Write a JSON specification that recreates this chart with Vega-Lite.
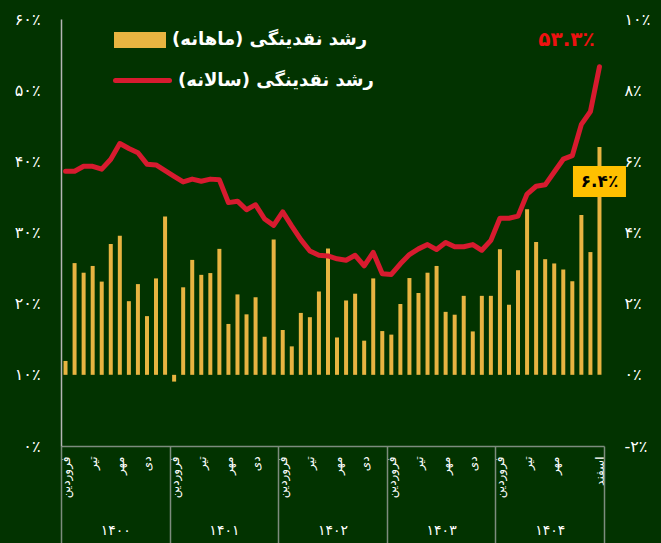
{
  "$schema": "https://vega.github.io/schema/vega-lite/v6.json",
  "width": 543,
  "height": 427,
  "autosize": {"type": "none"},
  "padding": {"left": 61, "top": 19, "right": 57, "bottom": 97},
  "background": "#023300",
  "config": {
    "view": {"stroke": null},
    "font": "DejaVu Sans",
    "axis": {"grid": false, "labelColor": "#ffffff", "labelFont": "DejaVu Sans", "title": null}
  },
  "data": {
    "values": [
      {"m": 1, "monthly": 0.39, "annual": 38.6},
      {"m": 2, "monthly": 3.14, "annual": 38.6},
      {"m": 3, "monthly": 2.87, "annual": 39.3},
      {"m": 4, "monthly": 3.06, "annual": 39.3},
      {"m": 5, "monthly": 2.62, "annual": 38.9},
      {"m": 6, "monthly": 3.68, "annual": 40.3},
      {"m": 7, "monthly": 3.91, "annual": 42.5},
      {"m": 8, "monthly": 2.07, "annual": 41.8},
      {"m": 9, "monthly": 2.55, "annual": 41.2},
      {"m": 10, "monthly": 1.65, "annual": 39.6},
      {"m": 11, "monthly": 2.71, "annual": 39.5},
      {"m": 12, "monthly": 4.45, "annual": 38.7},
      {"m": 13, "monthly": -0.19, "annual": 37.9},
      {"m": 14, "monthly": 2.46, "annual": 37.1},
      {"m": 15, "monthly": 3.23, "annual": 37.5},
      {"m": 16, "monthly": 2.81, "annual": 37.2},
      {"m": 17, "monthly": 2.86, "annual": 37.5},
      {"m": 18, "monthly": 3.54, "annual": 37.4},
      {"m": 19, "monthly": 1.43, "annual": 34.2},
      {"m": 20, "monthly": 2.26, "annual": 34.4},
      {"m": 21, "monthly": 1.70, "annual": 33.2},
      {"m": 22, "monthly": 2.18, "annual": 33.9},
      {"m": 23, "monthly": 1.07, "annual": 31.9},
      {"m": 24, "monthly": 3.80, "annual": 31.0},
      {"m": 25, "monthly": 1.26, "annual": 32.9},
      {"m": 26, "monthly": 0.80, "annual": 30.9},
      {"m": 27, "monthly": 1.74, "annual": 29.0},
      {"m": 28, "monthly": 1.62, "annual": 27.4},
      {"m": 29, "monthly": 2.34, "annual": 26.8},
      {"m": 30, "monthly": 3.55, "annual": 26.7},
      {"m": 31, "monthly": 1.05, "annual": 26.3},
      {"m": 32, "monthly": 2.09, "annual": 26.1},
      {"m": 33, "monthly": 2.28, "annual": 26.8},
      {"m": 34, "monthly": 0.96, "annual": 25.3},
      {"m": 35, "monthly": 2.71, "annual": 27.2},
      {"m": 36, "monthly": 1.23, "annual": 24.2},
      {"m": 37, "monthly": 1.13, "annual": 24.1},
      {"m": 38, "monthly": 1.99, "annual": 25.6},
      {"m": 39, "monthly": 2.72, "annual": 26.9},
      {"m": 40, "monthly": 2.30, "annual": 27.7},
      {"m": 41, "monthly": 2.87, "annual": 28.3},
      {"m": 42, "monthly": 3.06, "annual": 27.6},
      {"m": 43, "monthly": 1.77, "annual": 28.6},
      {"m": 44, "monthly": 1.69, "annual": 28.0},
      {"m": 45, "monthly": 2.22, "annual": 28.0},
      {"m": 46, "monthly": 1.22, "annual": 28.3},
      {"m": 47, "monthly": 2.22, "annual": 27.5},
      {"m": 48, "monthly": 2.22, "annual": 28.9},
      {"m": 49, "monthly": 3.53, "annual": 32.0},
      {"m": 50, "monthly": 1.97, "annual": 32.0},
      {"m": 51, "monthly": 2.94, "annual": 32.3},
      {"m": 52, "monthly": 4.65, "annual": 35.4},
      {"m": 53, "monthly": 3.73, "annual": 36.5},
      {"m": 54, "monthly": 3.25, "annual": 36.7},
      {"m": 55, "monthly": 3.13, "annual": 38.5},
      {"m": 56, "monthly": 2.96, "annual": 40.3},
      {"m": 57, "monthly": 2.63, "annual": 40.8},
      {"m": 58, "monthly": 4.49, "annual": 45.2},
      {"m": 59, "monthly": 3.45, "annual": 47.0},
      {"m": 60, "monthly": 6.4, "annual": 53.3}
    ]
  },
  "layer": [
    {
      "layer": [
        {
          "mark": {"type": "bar", "width": 4, "color": "#E8B441"},
          "encoding": {
            "x": {"field": "m", "type": "quantitative", "scale": {"domain": [0.5, 60.5], "nice": false, "zero": false, "padding": 0},
              "axis": {"orient": "bottom", "values": [1, 4, 7, 10, 13, 16, 19, 22, 25, 28, 31, 34, 37, 40, 43, 46, 49, 52, 55, 60], "labelExpr": "datum.value == 60 ? 'اسفند' : ['فروردین','','','تیر','','','مهر','','','دی','',''][(datum.value - 1) % 12]", "labelAngle": -90, "labelPadding": 10, "ticks": false, "domain": true, "domainColor": "#7d8c7d", "domainWidth": 1.5, "labelFontSize": 12, "labelFlush": false, "labelOverlap": false, "title": null}},
            "y": {"field": "monthly", "type": "quantitative", "scale": {"domain": [-2, 10], "nice": false},
              "axis": {"orient": "right", "values": [-2, 0, 2, 4, 6, 8, 10], "labelExpr": "['-۲٪','۰٪','۲٪','۴٪','۶٪','۸٪','۱۰٪'][round((datum.value + 2) / 2)]", "ticks": false, "domain": false, "labelPadding": 20, "labelFontSize": 16, "title": null}},
            "color": {"datum": "رشد نقدینگی (ماهانه)‏", "scale": {"range": ["#E8B441"]},
              "legend": {"orient": "none", "legendX": 53, "legendY": -5, "title": null, "symbolType": "M-1,-0.3077H1V0.3077H-1Z", "symbolSize": 2704, "symbolStrokeWidth": 0, "symbolOpacity": 1, "labelFontSize": 18, "labelFontWeight": "bold", "labelColor": "#ffffff", "labelFont": "DejaVu Sans", "labelOffset": 6, "padding": 0, "labelLimit": 400}}
          }
        },
        {
          "transform": [{"filter": "datum.m == 60"}],
          "mark": {"type": "point", "shape": "M-1,-0.585H1V0.585H-1Z", "size": 2809, "filled": true, "color": "#FFC000", "opacity": 1, "yOffset": 34.5},
          "encoding": {
            "x": {"field": "m", "type": "quantitative", "scale": {"domain": [0.5, 60.5], "nice": false, "zero": false, "padding": 0},
              "axis": {"orient": "bottom", "values": [1, 4, 7, 10, 13, 16, 19, 22, 25, 28, 31, 34, 37, 40, 43, 46, 49, 52, 55, 60], "labelExpr": "datum.value == 60 ? 'اسفند' : ['فروردین','','','تیر','','','مهر','','','دی','',''][(datum.value - 1) % 12]", "labelAngle": -90, "labelPadding": 10, "ticks": false, "domain": true, "domainColor": "#7d8c7d", "domainWidth": 1.5, "labelFontSize": 12, "labelFlush": false, "labelOverlap": false, "title": null}},
            "y": {"field": "monthly", "type": "quantitative", "scale": {"domain": [-2, 10], "nice": false},
              "axis": {"orient": "right", "values": [-2, 0, 2, 4, 6, 8, 10], "labelExpr": "['-۲٪','۰٪','۲٪','۴٪','۶٪','۸٪','۱۰٪'][round((datum.value + 2) / 2)]", "ticks": false, "domain": false, "labelPadding": 20, "labelFontSize": 16, "title": null}}
          }
        },
        {
          "transform": [{"filter": "datum.m == 60"}],
          "mark": {"type": "text", "text": "۶.۴٪", "font": "DejaVu Sans", "fontWeight": "bold", "fontSize": 17, "color": "#000000", "yOffset": 34.5, "baseline": "middle", "align": "center"},
          "encoding": {
            "x": {"field": "m", "type": "quantitative", "scale": {"domain": [0.5, 60.5], "nice": false, "zero": false, "padding": 0},
              "axis": {"orient": "bottom", "values": [1, 4, 7, 10, 13, 16, 19, 22, 25, 28, 31, 34, 37, 40, 43, 46, 49, 52, 55, 60], "labelExpr": "datum.value == 60 ? 'اسفند' : ['فروردین','','','تیر','','','مهر','','','دی','',''][(datum.value - 1) % 12]", "labelAngle": -90, "labelPadding": 10, "ticks": false, "domain": true, "domainColor": "#7d8c7d", "domainWidth": 1.5, "labelFontSize": 12, "labelFlush": false, "labelOverlap": false, "title": null}},
            "y": {"field": "monthly", "type": "quantitative", "scale": {"domain": [-2, 10], "nice": false},
              "axis": {"orient": "right", "values": [-2, 0, 2, 4, 6, 8, 10], "labelExpr": "['-۲٪','۰٪','۲٪','۴٪','۶٪','۸٪','۱۰٪'][round((datum.value + 2) / 2)]", "ticks": false, "domain": false, "labelPadding": 20, "labelFontSize": 16, "title": null}}
          }
        }
      ]
    },
    {
      "layer": [
        {
          "mark": {"type": "line", "strokeWidth": 5, "strokeCap": "round", "strokeJoin": "round", "color": "#D71B2F"},
          "encoding": {
            "x": {"field": "m", "type": "quantitative", "scale": {"domain": [0.5, 60.5], "nice": false, "zero": false, "padding": 0},
              "axis": {"orient": "bottom", "values": [0.5, 12.5, 24.5, 36.5, 48.5, 60.5], "labelExpr": "['۱۴۰۰','۱۴۰۱','۱۴۰۲','۱۴۰۳','۱۴۰۴',''][round((datum.value - 0.5) / 12)]", "ticks": true, "tickSize": 97, "tickColor": "#7d8c7d", "tickWidth": 1.5, "domain": false, "labelOffset": 54.3, "labelPadding": -20, "labelFontSize": 14, "labelFlush": false, "labelOverlap": false, "title": null}},
            "y": {"field": "annual", "type": "quantitative", "scale": {"domain": [0, 60], "nice": false},
              "axis": {"orient": "left", "values": [0, 10, 20, 30, 40, 50, 60], "labelExpr": "['۰٪','۱۰٪','۲۰٪','۳۰٪','۴۰٪','۵۰٪','۶۰٪'][round(datum.value / 10)]", "ticks": false, "domain": true, "domainColor": "#b5b5b5", "domainWidth": 1.5, "labelPadding": 21, "labelFontSize": 16, "title": null}},
            "color": {"datum": "رشد نقدینگی (سالانه)‏", "scale": {"range": ["#D71B2F"]},
              "legend": {"orient": "none", "legendX": 52, "legendY": 32, "title": null, "symbolType": "stroke", "symbolSize": 2916, "symbolStrokeWidth": 5, "labelFontSize": 18, "labelFontWeight": "bold", "labelColor": "#ffffff", "labelFont": "DejaVu Sans", "labelOffset": 6, "padding": 0, "labelLimit": 400,
                "encode": {"symbols": {"update": {"strokeCap": {"value": "round"}}}}}}
          }
        },
        {
          "transform": [{"filter": "datum.m == 60"}],
          "mark": {"type": "text", "text": "۵۳.۳٪", "font": "DejaVu Sans", "fontWeight": "bold", "fontSize": 20, "color": "#EE1111", "dx": -33, "dy": -27, "baseline": "middle", "align": "center"},
          "encoding": {
            "x": {"field": "m", "type": "quantitative", "scale": {"domain": [0.5, 60.5], "nice": false, "zero": false, "padding": 0},
              "axis": {"orient": "bottom", "values": [0.5, 12.5, 24.5, 36.5, 48.5, 60.5], "labelExpr": "['۱۴۰۰','۱۴۰۱','۱۴۰۲','۱۴۰۳','۱۴۰۴',''][round((datum.value - 0.5) / 12)]", "ticks": true, "tickSize": 97, "tickColor": "#7d8c7d", "tickWidth": 1.5, "domain": false, "labelOffset": 54.3, "labelPadding": -20, "labelFontSize": 14, "labelFlush": false, "labelOverlap": false, "title": null}},
            "y": {"field": "annual", "type": "quantitative", "scale": {"domain": [0, 60], "nice": false},
              "axis": {"orient": "left", "values": [0, 10, 20, 30, 40, 50, 60], "labelExpr": "['۰٪','۱۰٪','۲۰٪','۳۰٪','۴۰٪','۵۰٪','۶۰٪'][round(datum.value / 10)]", "ticks": false, "domain": true, "domainColor": "#b5b5b5", "domainWidth": 1.5, "labelPadding": 21, "labelFontSize": 16, "title": null}}
          }
        }
      ]
    }
  ],
  "resolve": {"scale": {"y": "independent", "color": "independent"}, "axis": {"x": "independent", "y": "independent"}}
}
